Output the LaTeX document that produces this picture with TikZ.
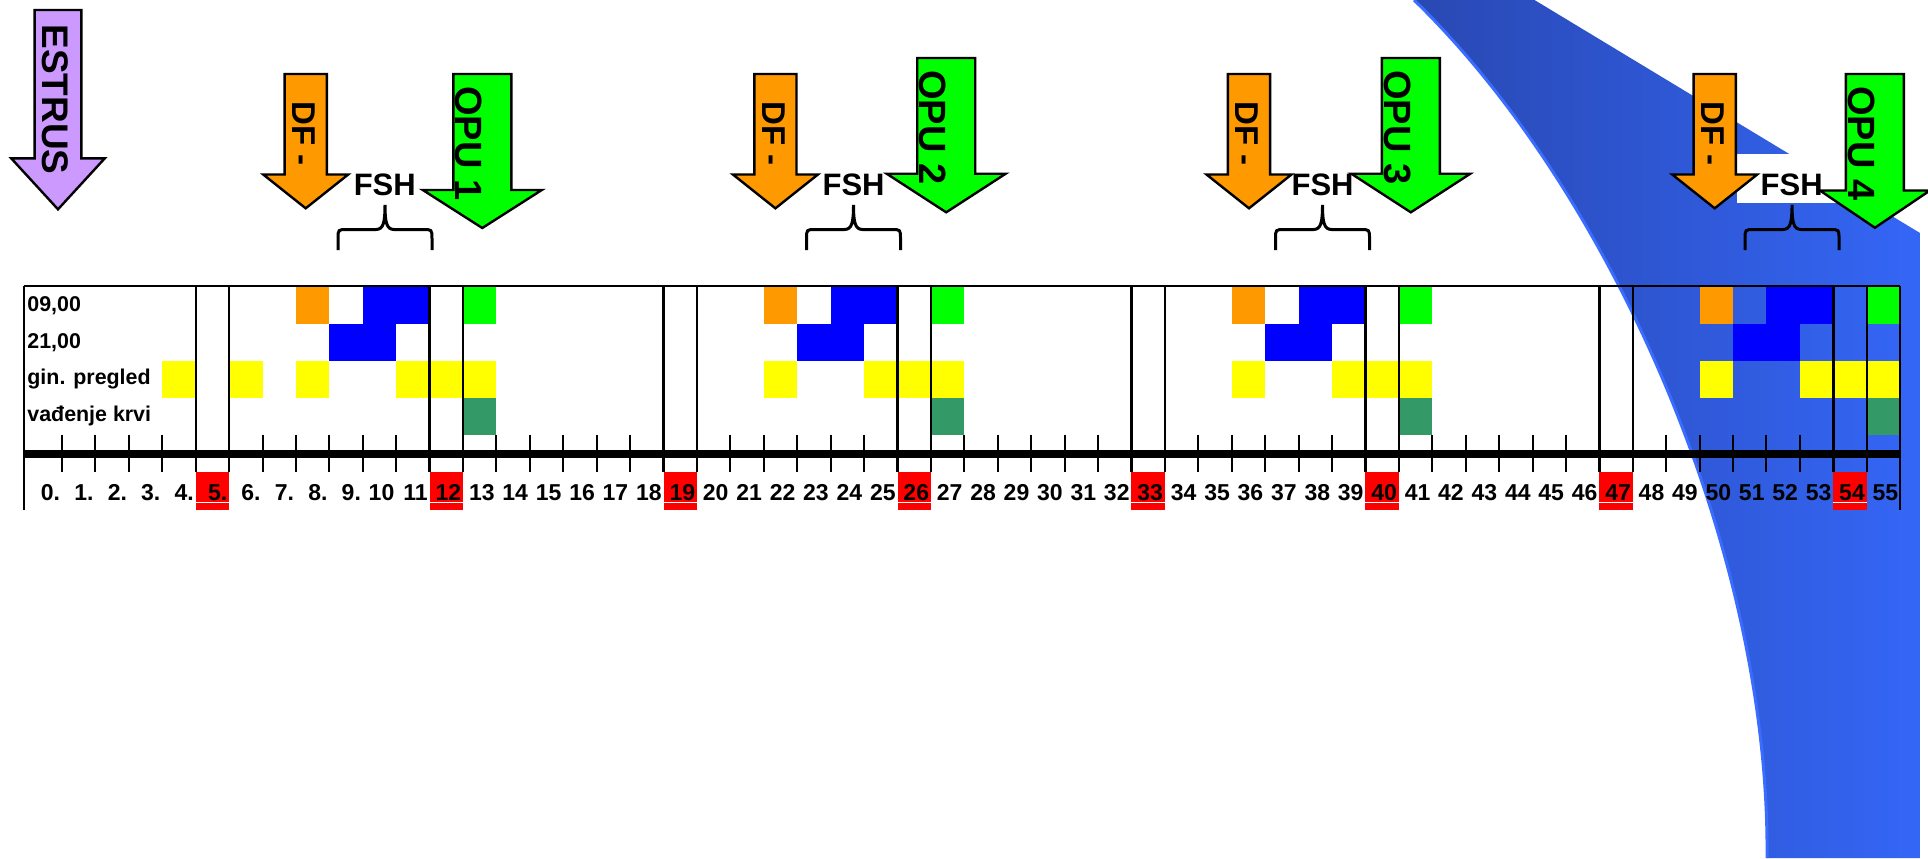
\documentclass[tikz,border=0pt]{standalone}
\usepackage{fontspec}
\setmainfont{Liberation Sans}
\usepackage{xcolor}
\definecolor{estrusviolet}{RGB}{204,153,255}
\definecolor{dforange}{RGB}{255,153,0}
\definecolor{opugreen}{RGB}{0,255,0}
\definecolor{fshblue}{RGB}{0,0,255}
\definecolor{ginyellow}{RGB}{255,255,0}
\definecolor{krvgreen}{RGB}{51,153,102}
\definecolor{dayred}{RGB}{255,0,0}
\definecolor{swdark}{RGB}{41,72,178}
\definecolor{swmid}{RGB}{47,92,220}
\definecolor{swlight}{RGB}{52,102,246}
\definecolor{swedge}{RGB}{58,108,255}

% left edge of day column #1
\newcommand{\colx}[1]{28.6+33.42*(#1)}
% one coloured field of the schedule: column, row, colour
\newcommand{\daycell}[3]{\fill[#3] ({\colx{#1}},{286.7+37*(#2)}) rectangle ++(33.42,37);}
% block arrow pointing down: fill, centre x, top, half shaft, head y, half head, tip y
\newcommand{\blockarrow}[7]{%
  \filldraw[arrline, fill=#1] ({#2-#4},#3) -- ({#2+#4},#3) -- ({#2+#4},#5)
    -- ({#2+#6},#5) -- (#2,#7) -- ({#2-#6},#5) -- ({#2-#4},#5) -- cycle;}

\begin{document}
\begin{tikzpicture}[x=0.5pt, y=-0.5pt,
    arrline/.style={draw=black, line width=1.2pt, line join=miter},
    arrlab/.style={rotate=-90, anchor=west, inner sep=0pt},
    opulab/.style={arrlab, font=\fontsize{19}{19}\selectfont\bfseries},
    dflab/.style={arrlab, font=\fontsize{16.5}{16.5}\selectfont\bfseries},
    fshlab/.style={anchor=base, fill=white, inner sep=0pt, text height=20.5pt,
        text depth=4pt, minimum width=55pt, font=\fontsize{15.5}{15.5}\selectfont\bfseries},
    fshbrace/.style={draw=black, line width=1.5pt},
    rowlab/.style={anchor=west, inner sep=0pt, font=\fontsize{10.7}{10.7}\selectfont\bfseries},
    daylab/.style={anchor=base east, inner sep=0pt, font=\fontsize{11.5}{11.5}\selectfont\bfseries},
    tabline/.style={draw=black, line width=1pt},
    sepline/.style={draw=black, line width=1.2pt},
    daytick/.style={draw=black, line width=1pt}
]
    \fill[white] (0,0) rectangle (1928,858);
    \useasboundingbox (0,0) rectangle (1928,858);

    % blue band behind everything
    \shade[left color=swdark, middle color=swmid, right color=swlight]
        (1414,0) -- (1534.5,0) -- (1920,233) -- (1920,858) -- (1767,858)
        .. controls (1770,550) and (1610,190) .. (1414,0) -- cycle;
    \draw[swedge, line width=1.5pt] (1767,858) .. controls (1770,550) and (1610,190) .. (1414,0);

    % FSH labels
    \foreach \n/\x in {1/384.8, 2/853.6, 3/1322.6, 4/1791.7}
        \node[fshlab] (fsh\n) at (\x,195) {FSH};

    % schedule fields
    \daycell{4}{2}{ginyellow}
    \daycell{6}{2}{ginyellow}
    \foreach \o in {0,14,28,42} {
        \daycell{8+\o}{0}{dforange}
        \daycell{10+\o}{0}{fshblue}
        \daycell{11+\o}{0}{fshblue}
        \daycell{9+\o}{1}{fshblue}
        \daycell{10+\o}{1}{fshblue}
        \daycell{13+\o}{0}{opugreen}
        \daycell{8+\o}{2}{ginyellow}
        \daycell{11+\o}{2}{ginyellow}
        \daycell{12+\o}{2}{ginyellow}
        \daycell{13+\o}{2}{ginyellow}
        \daycell{13+\o}{3}{krvgreen}
    }

    \node[rowlab] (row1) at (27,305.2) {09,00};
    \node[rowlab] (row2) at (27,342.2) {21,00};
    \node[rowlab] (row3) at (27,379.2) {gin. pregled};
    \node[rowlab] (row4) at (27,416.2) {vađenje krvi};

    % frame, weekly separators and time axis
    \draw[tabline] (23.6,286) -- (1900,286);
    \draw[tabline] (23.6,286) -- (23.6,510);
    \draw[tabline] (1900,286) -- (1900,510);
    \foreach \k in {5,6,12,13,19,20,26,27,33,34,40,41,47,48,54,55}
        \draw[sepline] ({\colx{\k}},286) -- ({\colx{\k}},472.3);
    \foreach \k in {1,...,55}
        \draw[daytick] ({\colx{\k}},434.7) -- ({\colx{\k}},472.3);
    \draw[line width=4.15pt] (23.6,454.2) -- (1900,454.2);

    \foreach \d in {5,12,...,54} {
        \fill[dayred] ({\colx{\d}},472.3) rectangle ({\colx{\d+1}},510);
        \draw[white, line width=0.5pt] ({\colx{\d}},502.6) -- ({\colx{\d+1}},502.6);
    }
    \foreach \k in {0,...,55}
        \node[daylab] (d\k) at ({\colx{\k+1}-1.5},500) {\ifnum\k<10 \k.\else\k\fi};

    % braces under FSH
    \foreach \x in {385, 853.5, 1322.5, 1792}
        \draw[fshbrace] ({\x-47},250) -- ({\x-47},239) .. controls ({\x-47},229.5) .. ({\x-38},229.5)
            -- ({\x-9},229.5) .. controls ({\x-1.5},229.5) and (\x,222) .. (\x,205)
            .. controls (\x,222) and ({\x+1.5},229.5) .. ({\x+9},229.5)
            -- ({\x+38},229.5) .. controls ({\x+47},229.5) .. ({\x+47},239) -- ({\x+47},250);

    % arrows
    \blockarrow{estrusviolet}{58}{10}{23.4}{158.3}{46.8}{209.3}
    \node[arrlab, font=\fontsize{18.5}{18.5}\selectfont\bfseries] (estrus) at (55.3,24) {ESTRUS};

    \foreach \n/\x in {1/305.7, 2/775.4, 3/1249, 4/1714.7} {
        \blockarrow{dforange}{\x}{74}{21.1}{174.5}{42.5}{208.3}
        \node[dflab] (df\n) at ({\x-2},101) {DF -};
    }

    \foreach \n/\x/\ytop/\yhead/\ytip/\hw in {1/482.3/74/190/228/59.5, 2/946.2/58/173.7/212.3/59.5,
            3/1410.8/58/173.7/212.3/59.5, 4/1874.9/74/190.5/227.7/55} {
        \blockarrow{opugreen}{\x}{\ytop}{29}{\yhead}{\hw}{\ytip}
        \node[opulab] (opu\n) at ({\x-13.5},{\ytop+12}) {OPU \n};
    }
\end{tikzpicture}
\end{document}
